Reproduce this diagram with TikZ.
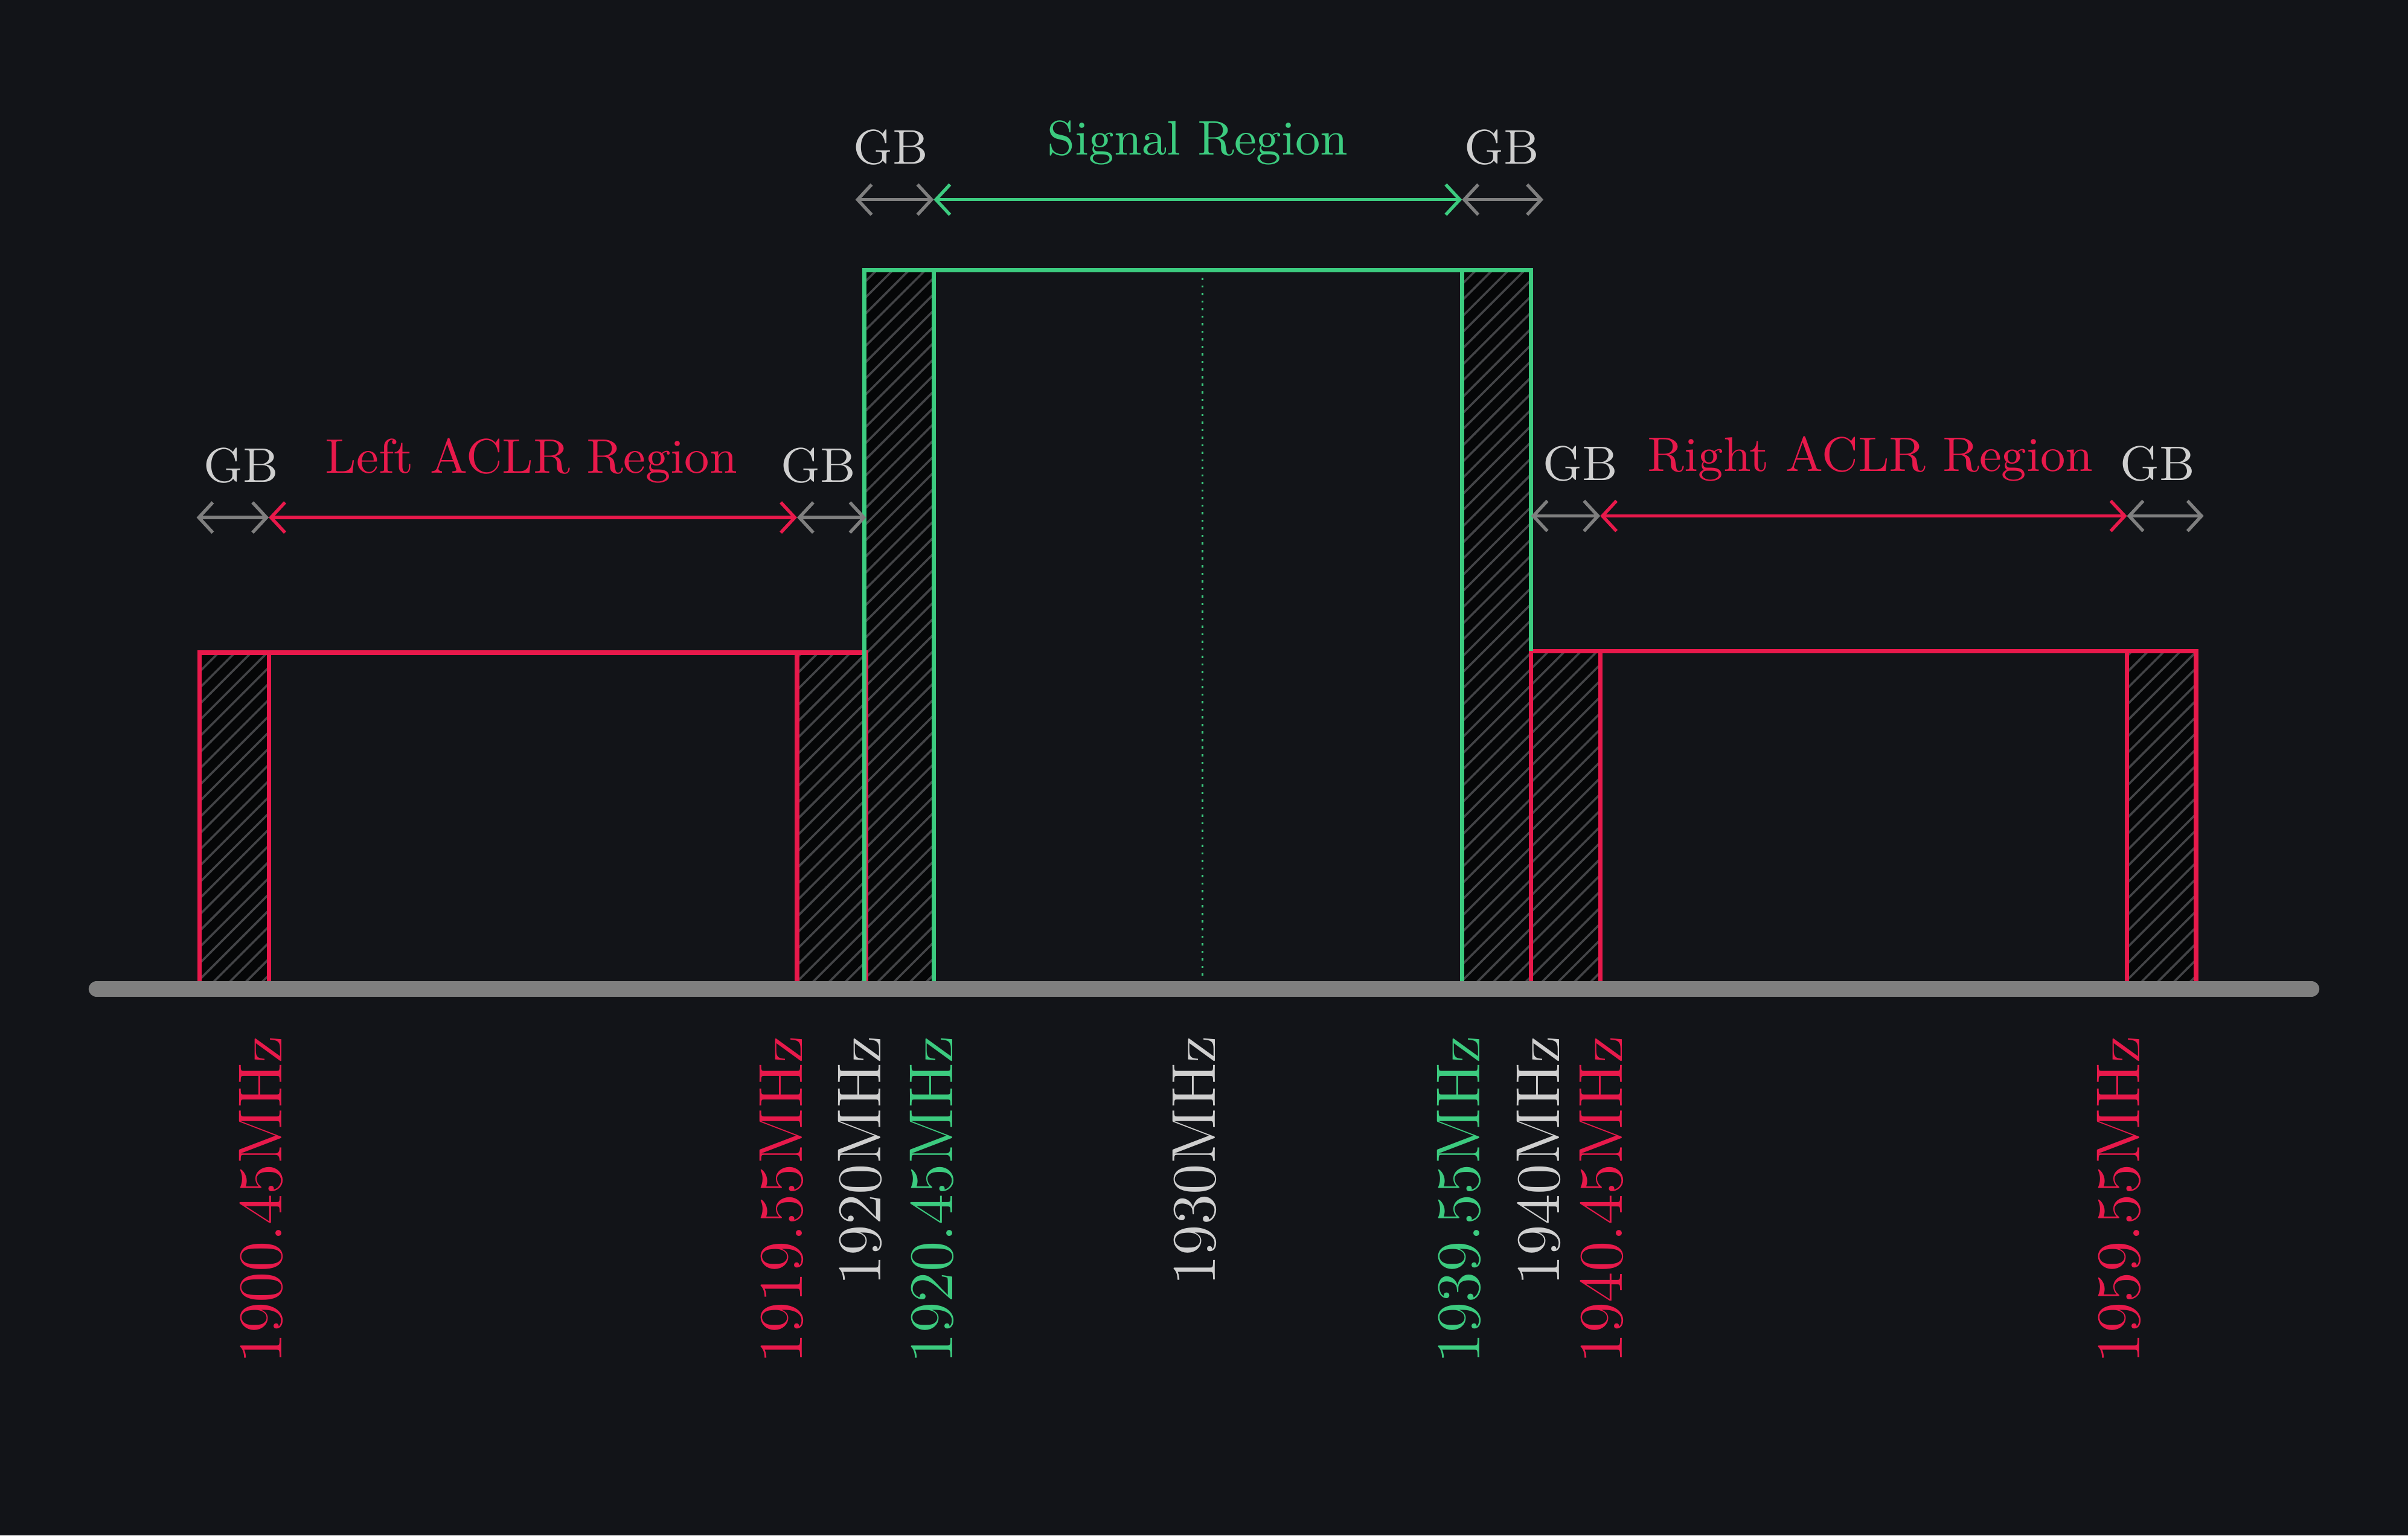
\documentclass[tikz,border=0pt]{standalone}
\usetikzlibrary{arrows.meta,patterns}
\definecolor{bg}{HTML}{121418}
\definecolor{aclr}{HTML}{E8194B}
\definecolor{sig}{HTML}{3CCB7F}
\definecolor{gb}{HTML}{7F7F7F}
\definecolor{txt}{HTML}{CFCFCF}
\begin{document}
\begin{tikzpicture}[x=0.01cm,y=-0.01cm]
			\tikzstyle{hatch} = [pattern=north east lines, pattern color=gray!45!bg]
			\tikzstyle{edge} = [thick, line join=miter]
			\tikzstyle{span} = [semithick, {Straight Barb[length=2.6pt,width=5.6pt]}-{Straight Barb[length=2.6pt,width=5.6pt]}]
			\tikzstyle{lbl} = [font=\fontsize{9}{11}\selectfont]
			\tikzstyle{freq} = [font=\fontsize{11.5}{14}\selectfont, rotate=90, anchor=east]
			\fill [bg] (0,0) rectangle (1568,1000);

			% guard band strips
			\fill [black!70!bg] (130,425) rectangle (175,642);
			\fill [hatch] (130,425) rectangle (175,642);
			\fill [black!70!bg] (519,425) rectangle (564,642);
			\fill [hatch] (519,425) rectangle (564,642);
			\fill [black!70!bg] (563,176) rectangle (608,642);
			\fill [hatch] (563,176) rectangle (608,642);
			\fill [black!70!bg] (952,176) rectangle (997,642);
			\fill [hatch] (952,176) rectangle (997,642);
			\fill [black!70!bg] (997,424) rectangle (1042,642);
			\fill [hatch] (997,424) rectangle (1042,642);
			\fill [black!70!bg] (1385,424) rectangle (1430,642);
			\fill [hatch] (1385,424) rectangle (1430,642);

			% blocks
			\draw [edge, aclr] (130,642) -- (130,425) -- (564,425) -- (564,642);
			\draw [edge, aclr] (175,425) -- (175,642);
			\draw [edge, aclr] (519,425) -- (519,642);
			\draw [edge, aclr] (997,642) -- (997,424) -- (1430,424) -- (1430,642);
			\draw [edge, aclr] (1042,424) -- (1042,642);
			\draw [edge, aclr] (1385,424) -- (1385,642);
			\draw [edge, sig] (563,642) -- (563,176) -- (997,176) -- (997,424);
			\draw [edge, sig] (608,176) -- (608,642);
			\draw [edge, sig] (952,176) -- (952,642);
			\draw [sig, densely dotted] (783,176) -- (783,642);

			\draw [line width=3pt, gb, line cap=round] (63,644) -- (1505,644);

			% spans
			\coordinate (s0) at (557,130); \coordinate (s1) at (608,130);
			\coordinate (s2) at (952,130); \coordinate (s3) at (1005,130);
			\coordinate (l0) at (128,337); \coordinate (l1) at (175,337);
			\coordinate (l2) at (519,337); \coordinate (l3) at (564,337);
			\coordinate (r0) at (997,336); \coordinate (r1) at (1042,336);
			\coordinate (r2) at (1385,336); \coordinate (r3) at (1435,336);
			\draw [span, gb] (s0) -- (s1);
			\draw [span, sig] (s1) -- (s2);
			\draw [span, gb] (s2) -- (s3);
			\draw [span, gb] (l0) -- (l1);
			\draw [span, aclr] (l1) -- (l2);
			\draw [span, gb] (l2) -- (l3);
			\draw [span, gb] (r0) -- (r1);
			\draw [span, aclr] (r1) -- (r2);
			\draw [span, gb] (r2) -- (r3);

			\node [lbl, txt] (gbs0) at (580,96) {GB};
			\node [lbl, sig] (sigr) at (780,93) {Signal Region};
			\node [lbl, txt] (gbs1) at (978,96) {GB};
			\node [lbl, txt] (gbl0) at (157,303) {GB};
			\node [lbl, aclr] (leftr) at (346,300) {Left ACLR Region};
			\node [lbl, txt] (gbl1) at (533,303) {GB};
			\node [lbl, txt] (gbr0) at (1029,302) {GB};
			\node [lbl, aclr] (rightr) at (1218,299) {Right ACLR Region};
			\node [lbl, txt] (gbr1) at (1405,302) {GB};

			% frequencies
			\node [freq, aclr] (f1) at (170,662) {1900.45MHz};
			\node [freq, aclr] (f2) at (509,662) {1919.55MHz};
			\node [freq, txt] (f3) at (560,662) {1920MHz};
			\node [freq, sig] (f4) at (607,662) {1920.45MHz};
			\node [freq, txt] (f5) at (778,662) {1930MHz};
			\node [freq, sig] (f6) at (950,662) {1939.55MHz};
			\node [freq, txt] (f7) at (1002,662) {1940MHz};
			\node [freq, aclr] (f8) at (1043,662) {1940.45MHz};
			\node [freq, aclr] (f9) at (1380,662) {1959.55MHz};
\end{tikzpicture}
\end{document}
